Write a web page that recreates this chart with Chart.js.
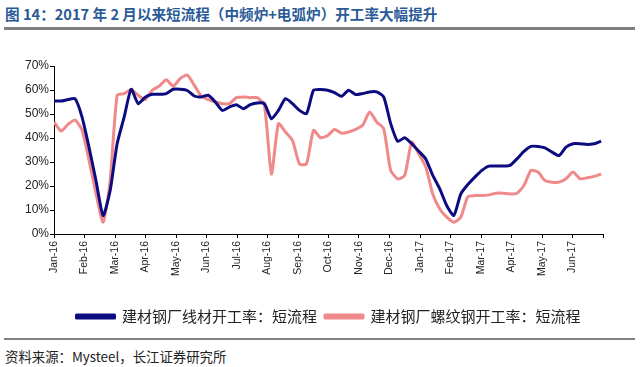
<!DOCTYPE html>
<html>
<head>
<meta charset="utf-8">
<script src="https://cdn.jsdelivr.net/npm/chart.js@4/dist/chart.umd.min.js"></script>
<style>
  body { margin: 0; width: 640px; height: 367px; background: #fff; position: relative; overflow: hidden; }
  #title { position: absolute; left: 5px; top: 3px; font: bold 14.6px "Noto Sans CJK SC", sans-serif; color: #2a5a96; white-space: nowrap; }
  .rule { position: absolute; left: 4px; width: 631px; background: #808080; }
  #box { position: absolute; left: 0; top: 30px; width: 640px; height: 304px; }
  #source { position: absolute; left: 5px; top: 346px; font: 13.4px "Noto Sans CJK SC", sans-serif; color: #222; white-space: nowrap; }
</style>
</head>
<body>
<div id="title">图 14：2017 年 2 月以来短流程（中频炉+电弧炉）开工率大幅提升</div>
<div class="rule" style="top:27px;height:3px;"></div>
<div id="box"><canvas id="chart"></canvas></div>
<div class="rule" style="top:338px;height:2px;"></div>
<div id="source">资料来源：Mysteel，长江证券研究所</div>
<script>
// month labels on the x axis (one tick per month, last tick closes the axis)
const monthLabels = ["Jan-16", "Feb-16", "Mar-16", "Apr-16", "May-16", "Jun-16",
  "Jul-16", "Aug-16", "Sep-16", "Oct-16", "Nov-16", "Dec-16",
  "Jan-17", "Feb-17", "Mar-17", "Apr-17", "May-17", "Jun-17", ""];

// weekly operating rate (%), week 0 = first week of Jan-16
const wireRate = [55.4, 55.4, 56, 56.4, 48.7, 36, 22, 7.7, 18, 37.6,
  48.7, 60.3, 54.3, 57, 58.2, 58.2, 58.5, 60.3, 60.3, 59.8,
  57.5, 57.1, 57.8, 55, 51.5, 52.9, 53.9, 52.2, 53.9, 54.6,
  54.3, 48, 51.5, 56.4, 54.3, 51.5, 50.1, 59.9, 60.2, 59.9,
  58.9, 57.4, 59.9, 58.1, 58.5, 59.2, 59.2, 57.1, 46, 38.6,
  40.1, 37.6, 34.5, 31.3, 24.4, 18.8, 11.8, 7.7, 16.7, 20.6,
  23.7, 26.5, 28.3, 28.3, 28.3, 28.6, 31.3, 34.4, 36.5, 36.5,
  35.9, 34.1, 32.7, 36.2, 37.6, 37.6, 37.3, 37.6, 38.7];

const rebarRate = [46.7, 42.9, 45.7, 47.4, 43.2, 30.6, 16.7, 4.9, 22, 57.8,
  58.5, 60.2, 57.8, 56, 59.9, 61.6, 64.3, 61.6, 64.8, 66.2,
  62, 57.4, 56, 55, 54.3, 54.3, 56.8, 57.1, 56.8, 56.8,
  53.6, 25, 46, 42.5, 39, 29.2, 29.2, 43.2, 40.1, 41,
  43.5, 42, 42.5, 43.6, 45.3, 50.8, 46.7, 43.9, 26.5, 23,
  24.4, 38.3, 33.4, 27.9, 16.7, 10.4, 7, 4.9, 7, 15.6,
  16, 16, 16.3, 17, 17, 16.7, 17, 20.2, 26.5, 25.8,
  22.3, 21.6, 21.6, 23, 25.8, 23, 23.4, 24, 25];

const seriesNames = ["建材钢厂线材开工率：短流程", "建材钢厂螺纹钢开工率：短流程"];

const WEEKS_PER_MONTH = 52.18 / 12;
const toPoints = (arr) => arr.map((v, i) => ({ x: i, y: v }));
const tickFont = "'Liberation Sans'";

new Chart(document.getElementById("chart"), {
  type: "line",
  data: {
    datasets: [
      {
        label: seriesNames[0],
        data: toPoints(wireRate),
        borderColor: "#0c0c80",
        backgroundColor: "#0c0c80",
        borderWidth: 3,
        pointRadius: 0,
        tension: 0.2,
        borderJoinStyle: "round",
      },
      {
        label: seriesNames[1],
        data: toPoints(rebarRate),
        borderColor: "#f0898a",
        backgroundColor: "#f0898a",
        borderWidth: 3,
        pointRadius: 0,
        tension: 0.2,
        borderJoinStyle: "round",
      },
    ],
  },
  options: {
    responsive: true,
    maintainAspectRatio: false,
    animation: false,
    layout: { padding: { top: 36, left: 0, right: 37, bottom: 0 } },
    plugins: {
      tooltip: { enabled: false },
      legend: {
        position: "bottom",
        fullSize: false,
        labels: {
          boxWidth: 38,
          boxHeight: 3,
          padding: 8,
          color: "#222",
          font: { family: "'Noto Sans CJK SC'", size: 15 },
        },
      },
    },
    scales: {
      x: {
        type: "linear",
        min: 0,
        max: (monthLabels.length - 1) * WEEKS_PER_MONTH,
        afterBuildTicks: (s) => {
          s.ticks = monthLabels.map((_, m) => ({ value: m * WEEKS_PER_MONTH }));
        },
        afterFit: (s) => {
          s.height = 67;
        },
        border: { display: true, color: "#000", width: 1 },
        grid: { drawOnChartArea: false, drawTicks: true, tickLength: 4, color: "#000" },
        ticks: {
          autoSkip: false,
          minRotation: 90,
          maxRotation: 90,
          padding: 3,
          color: "#222",
          font: { family: tickFont, size: 10.5 },
          callback: (v, i) => monthLabels[i],
        },
      },
      y: {
        min: 0,
        max: 70,
        afterFit: (s) => {
          s.width = 54;
        },
        border: { display: true, color: "#000", width: 1 },
        grid: { drawOnChartArea: false, drawTicks: true, tickLength: 4, color: "#000" },
        ticks: {
          stepSize: 10,
          padding: 1,
          color: "#222",
          font: { family: tickFont, size: 12 },
          callback: (v) => v + "%",
        },
      },
    },
  },
});
</script>
</body>
</html>
